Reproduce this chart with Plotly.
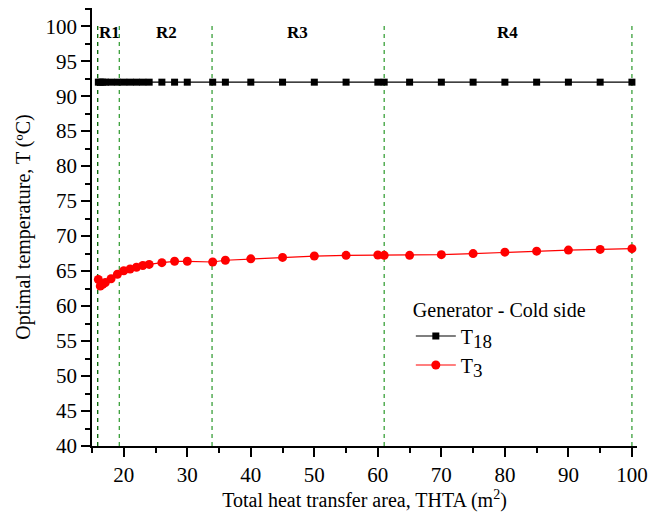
import plotly.graph_objects as go

area = [16.0, 16.3, 16.7, 17.1, 18, 19, 20, 21, 22, 23, 24, 26, 28, 30, 34, 36, 40,
        45, 50, 55, 60, 61, 65, 70, 75, 80, 85, 90, 95, 100]
t18 = [92.0] * len(area)
t3 = [63.8, 62.85, 63.1, 63.35, 63.9, 64.55, 65.05, 65.3, 65.55, 65.8, 65.95, 66.2,
      66.4, 66.4, 66.3, 66.55, 66.75, 66.95, 67.15, 67.25, 67.3, 67.25, 67.25, 67.35,
      67.5, 67.7, 67.85, 68.0, 68.1, 68.2]
region_bounds = [15.9, 19.3, 33.9, 61.0, 100.0]
region_labels = ["R1", "R2", "R3", "R4"]
region_label_x = [17.8, 26.7, 47.3, 80.4]

FONT = "Liberation Serif, Times New Roman, serif"

fig = go.Figure()

for i, xb in enumerate(region_bounds):
    fig.add_shape(type="line", xref="x", yref="y", x0=xb, x1=xb, y0=40, y1=100.6,
                  line=dict(color="#006400" if i == 0 else "#3aa03a", width=1.3,
                            dash="4px,4px"), layer="below")

fig.add_trace(go.Scatter(x=area, y=t18, mode="lines+markers",
                         name="T<sub><span style='font-size:19px'>18</span></sub>",
                         line=dict(color="black", width=1.2),
                         marker=dict(symbol="square", size=7, color="black")))
fig.add_trace(go.Scatter(x=area, y=t3, mode="lines+markers",
                         name="T<sub><span style='font-size:19px'>3</span></sub>",
                         line=dict(color="red", width=1.2),
                         marker=dict(symbol="circle", size=9, color="red")))

for lab, lx in zip(region_labels, region_label_x):
    fig.add_annotation(x=lx, y=99.1, xref="x", yref="y", text="<b>" + lab + "</b>",
                       showarrow=False, font=dict(family=FONT, size=17, color="black"))

axis_common = dict(showline=True, linecolor="black", linewidth=1.5, ticks="outside",
                   ticklen=9, tickwidth=1.5, tickcolor="black", showgrid=False,
                   zeroline=False, tickfont=dict(family=FONT, size=21, color="black"))

fig.update_xaxes(range=[15, 100.8], dtick=10, tick0=0,
                 minor=dict(dtick=5, tick0=0, ticks="outside", ticklen=5,
                            tickwidth=1.5, tickcolor="black", showgrid=False),
                 title=dict(text="Total heat transfer area, THTA (m<sup>2</sup>)",
                            font=dict(family=FONT, size=20, color="black"), standoff=6),
                 **axis_common)
fig.update_yaxes(range=[40, 102.6], dtick=5, tick0=0,
                 minor=dict(dtick=2.5, tick0=0, ticks="outside", ticklen=5,
                            tickwidth=1.5, tickcolor="black", showgrid=False),
                 title=dict(text="Optimal temperature, T (ºC)",
                            font=dict(family=FONT, size=20, color="black"), standoff=10),
                 **axis_common)

fig.update_layout(
    width=660, height=515,
    margin=dict(l=92, r=23, t=8, b=69),
    plot_bgcolor="white", paper_bgcolor="white",
    font=dict(family=FONT, size=20, color="black"),
    legend=dict(title=dict(text="Generator - Cold side", font=dict(family=FONT, size=20)),
                x=0.585, y=0.355, xanchor="left", yanchor="top",
                bgcolor="rgba(0,0,0,0)", font=dict(family=FONT, size=20),
                tracegroupgap=0, itemwidth=40),
)

fig.write_html("out.html")
